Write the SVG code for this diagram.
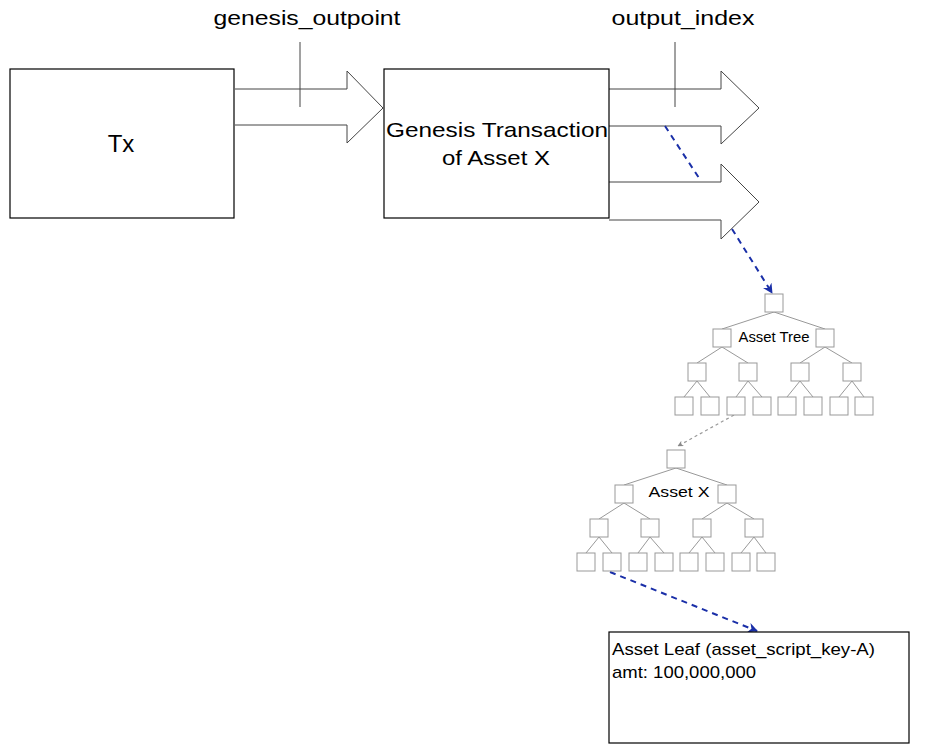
<svg xmlns="http://www.w3.org/2000/svg" width="925" height="750" viewBox="0 0 925 750">
<defs>
<style>
.box{fill:#fff;stroke:#000;stroke-width:1.2}
.arr{fill:#fff;stroke:#444;stroke-width:1}
.tick{stroke:#444;stroke-width:1;fill:none}
.t{font-family:"Liberation Sans",Arial,sans-serif;fill:#000}
.n{fill:#fff;stroke:#999;stroke-width:1}
.e{stroke:#999;stroke-width:1;fill:none}
.blue{stroke:#1a2fa8;stroke-width:2;stroke-dasharray:6 5;fill:none}
.grey{stroke:#999;stroke-width:1.2;stroke-dasharray:3 3;fill:none}
</style>
<marker id="mb" viewBox="0 0 10 10" refX="9" refY="5" markerWidth="5" markerHeight="5" orient="auto"><path d="M0,0 L10,5 L0,10 L3,5 z" fill="#1a2fa8"/></marker>
<marker id="mg" viewBox="0 0 10 10" refX="9" refY="5" markerWidth="5" markerHeight="5" orient="auto"><path d="M0,0 L10,5 L0,10 L3,5 z" fill="#888"/></marker>
<g id="tree">
<g class="e">
<path d="M9,18 L-43,35 M9,18 L60,35"/>
<path d="M-43,53 L-68,69 M-43,53 L-17,69 M60,53 L35,69 M60,53 L87,69"/>
<path d="M-68,87 L-81,103 M-68,87 L-55,103 M-17,87 L-29,103 M-17,87 L-3,103 M35,87 L22,103 M35,87 L48,103 M87,87 L74,103 M87,87 L99,103"/>
</g>
<rect class="n" x="0" y="0" width="18" height="18"/>
<rect class="n" x="-52" y="35" width="18" height="18"/>
<rect class="n" x="51" y="35" width="18" height="18"/>
<rect class="n" x="-77" y="69" width="18" height="18"/>
<rect class="n" x="-26" y="69" width="18" height="18"/>
<rect class="n" x="26" y="69" width="18" height="18"/>
<rect class="n" x="78" y="69" width="18" height="18"/>
<rect class="n" x="-90" y="103" width="18" height="18"/>
<rect class="n" x="-64" y="103" width="18" height="18"/>
<rect class="n" x="-38" y="103" width="18" height="18"/>
<rect class="n" x="-12" y="103" width="18" height="18"/>
<rect class="n" x="13" y="103" width="18" height="18"/>
<rect class="n" x="39" y="103" width="18" height="18"/>
<rect class="n" x="65" y="103" width="18" height="18"/>
<rect class="n" x="90" y="103" width="18" height="18"/>
</g>
</defs>
<rect width="925" height="750" fill="#fff"/>

<g id="connectors">
<path class="arr" d="M235,89 L347,89 L347,71 L383,108 L347,143 L347,125 L235,125"/>
<path class="arr" d="M609,89 L721,89 L721,71 L759,108 L721,144 L721,126 L609,126"/>
<path class="arr" d="M609,182 L721,182 L721,164 L759,202 L721,239 L721,220 L609,220"/>
<line class="tick" x1="300" y1="42" x2="300" y2="107"/>
<line class="tick" x1="675" y1="42" x2="675" y2="107"/>
<line class="blue" x1="665" y1="126" x2="699" y2="178"/>
<line class="blue" x1="732" y1="229" x2="772" y2="293" marker-end="url(#mb)"/>
<line class="grey" x1="734" y1="415" x2="678" y2="446" marker-end="url(#mg)"/>
<line class="blue" x1="610" y1="572" x2="757" y2="631" marker-end="url(#mb)"/>
</g>

<g id="tx">
<rect class="box" x="10" y="69" width="224" height="149"/>
<text class="t" x="121" y="152" font-size="24" text-anchor="middle">Tx</text>
</g>

<g id="genesis">
<rect class="box" x="384" y="69" width="225" height="149"/>
<text class="t" x="497" y="137" font-size="21" text-anchor="middle" textLength="222" lengthAdjust="spacingAndGlyphs">Genesis Transaction</text>
<text class="t" x="496" y="165" font-size="21" text-anchor="middle" textLength="108" lengthAdjust="spacingAndGlyphs">of Asset X</text>
</g>

<g id="label-genesis-outpoint">
<text class="t" x="307" y="25" font-size="21" text-anchor="middle" textLength="187" lengthAdjust="spacingAndGlyphs">genesis_outpoint</text>
</g>
<g id="label-output-index">
<text class="t" x="683" y="25" font-size="21" text-anchor="middle" textLength="143" lengthAdjust="spacingAndGlyphs">output_index</text>
</g>

<g id="asset-tree">
<use href="#tree" x="765" y="294"/>
<text class="t" x="774" y="342" font-size="14.5" text-anchor="middle" textLength="71" lengthAdjust="spacingAndGlyphs">Asset Tree</text>
</g>

<g id="asset-x">
<use href="#tree" x="667" y="450"/>
<text class="t" x="679" y="497" font-size="14.5" text-anchor="middle" textLength="61" lengthAdjust="spacingAndGlyphs">Asset X</text>
</g>

<g id="asset-leaf">
<rect class="box" x="609" y="632" width="300" height="111"/>
<text class="t" x="612" y="655" font-size="17" textLength="263" lengthAdjust="spacingAndGlyphs">Asset Leaf (asset_script_key-A)</text>
<text class="t" x="612" y="678" font-size="17" textLength="144" lengthAdjust="spacingAndGlyphs">amt: 100,000,000</text>
</g>
</svg>
